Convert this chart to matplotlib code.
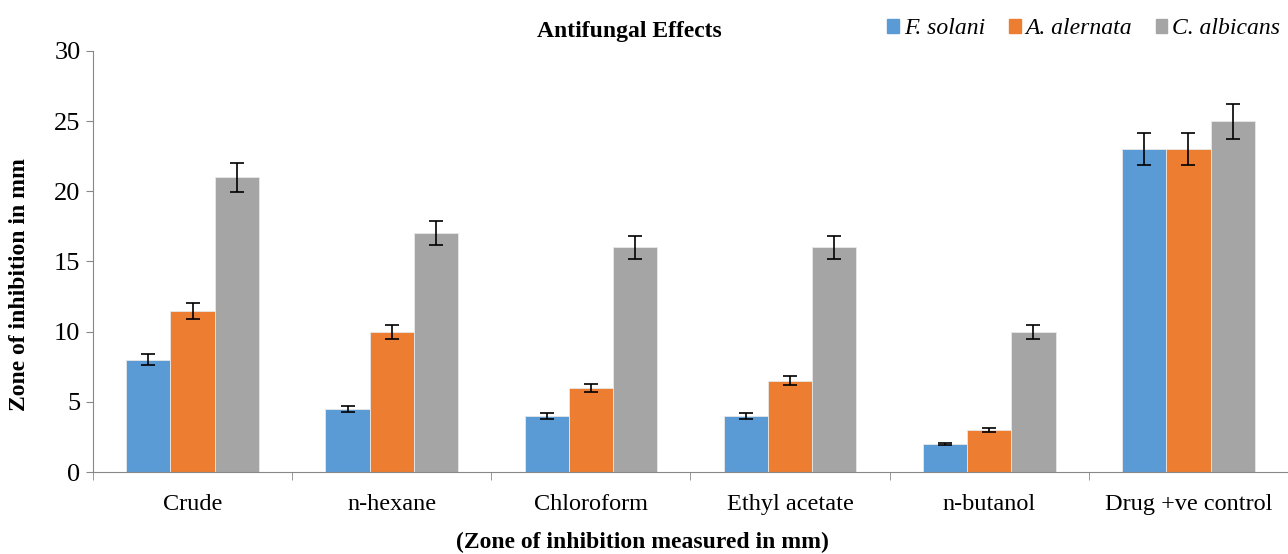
import matplotlib.pyplot as plt
import numpy as np
from matplotlib.patches import Patch

categorias = ['Crude', 'n-hexane', 'Chloroform', 'Ethyl acetate', 'n-butanol', 'Drug +ve control']
series = ['F. solani', 'A. alernata', 'C. albicans']
f_solani = [8, 4.5, 4, 4, 2, 23]
a_alernata = [11.5, 10, 6, 6.5, 3, 23]
c_albicans = [21, 17, 16, 16, 10, 25]
err_f = [0.4, 0.22, 0.2, 0.2, 0.1, 1.15]
err_a = [0.57, 0.5, 0.3, 0.32, 0.15, 1.15]
err_c = [1.05, 0.85, 0.8, 0.8, 0.5, 1.25]
colores = ['#5B9BD5', '#ED7D31', '#A5A5A5']

plt.rcParams['font.family'] = ['Liberation Serif', 'DejaVu Serif']

fig = plt.figure(figsize=(12.88, 5.54), dpi=100)
ax = fig.add_axes([0.0722, 0.148, 0.9278, 0.76])

x = np.arange(len(categorias))
ancho = 0.222
valores = [f_solani, a_alernata, c_albicans]
errores = [err_f, err_a, err_c]
for i in range(3):
    ax.bar(x + (i - 1) * ancho, valores[i], ancho, color=colores[i],
           edgecolor='#e8e8e8', linewidth=0.6,
           yerr=errores[i], capsize=5, error_kw=dict(ecolor='black', elinewidth=1.2, capthick=1.2))

ax.set_xlim(-0.5, len(categorias) - 0.5)
ax.set_ylim(0, 30)
ax.set_yticks(range(0, 31, 5))
ax.set_xticks(x)
ax.set_xticklabels(categorias, fontsize=17.5)
ax.set_xticks(np.arange(-0.5, len(categorias), 1), minor=True)
ax.tick_params(axis='x', which='major', length=0, pad=16)
ax.tick_params(axis='x', which='minor', length=6, color='#888888')
ax.tick_params(axis='y', labelsize=19, length=5, color='#888888', pad=4)

for lado in ['top', 'right']:
    ax.spines[lado].set_visible(False)
for lado in ['left', 'bottom']:
    ax.spines[lado].set_color('#888888')

# etiquetas de ejes colocadas respecto a la figura
fig.text(0.0155, 0.486, 'Zone of inhibition in mm', fontsize=17, fontweight='bold',
         rotation=90, ha='center', va='center')
fig.text(0.499, 0.02, '(Zone of inhibition measured in mm)', fontsize=17, fontweight='bold',
         ha='center', va='center')

fig.text(0.489, 0.944, 'Antifungal Effects', fontsize=17, fontweight='bold', ha='center', va='center')

handles = [Patch(color=colores[i], label=series[i]) for i in range(3)]
fig.legend(handles=handles, loc='center right', bbox_to_anchor=(1.003, 0.948), ncol=3, frameon=False,
           prop={'style': 'italic', 'size': 17}, handlelength=0.5, handleheight=0.5,
           handletextpad=0.2, columnspacing=1.0, borderaxespad=0.1)

plt.savefig('out.png', dpi=100)
plt.close(fig)
